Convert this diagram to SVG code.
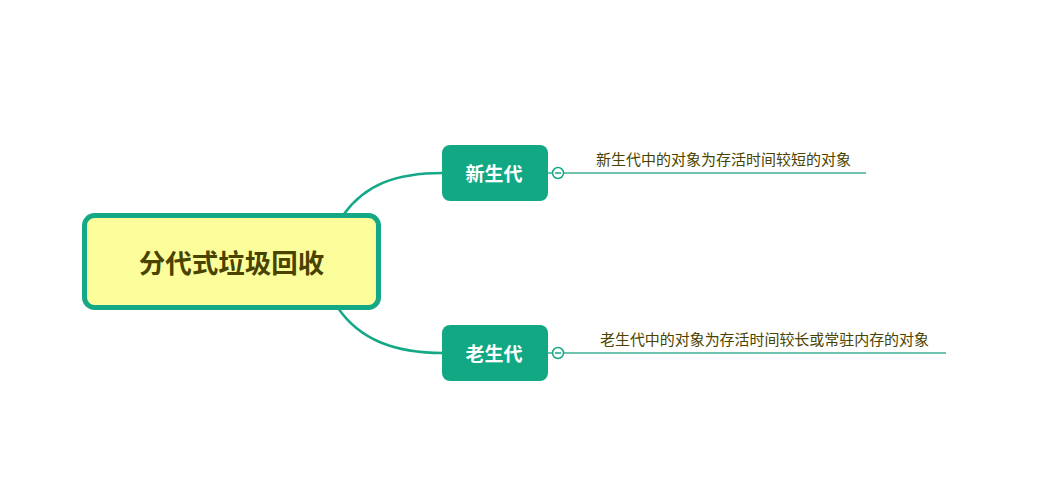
<svg xmlns="http://www.w3.org/2000/svg" width="1064" height="492" viewBox="0 0 1064 492">
<style>
.conn{fill:none;stroke:#14A886;stroke-width:2.5}
.leafline{fill:none;stroke:#3DAF92;stroke-width:1.5}
.child rect{fill:#12A884}
.child text{fill:#fff;font-family:"Noto Sans CJK SC",sans-serif;font-size:19px;font-weight:bold;text-anchor:middle}
.leaf text{fill:#4a4300;font-family:"Noto Sans CJK SC",sans-serif;font-size:15px}
.tog{fill:#fff;stroke:#14A886;stroke-width:1.5}
.togm{stroke:#14A886;stroke-width:1.5}
</style>
<rect width="1064" height="492" fill="#fff"/>
<g id="connectors">
<path class="conn" d="M344,214 C365,185 395,173 443,173"/>
<path class="conn" d="M338,308 C360,340 395,353 443,353"/>
<line class="leafline" x1="548" y1="173" x2="553" y2="173"/>
<line class="leafline" x1="563" y1="173" x2="866" y2="173"/>
<line class="leafline" x1="548" y1="353" x2="553" y2="353"/>
<line class="leafline" x1="563" y1="353" x2="946" y2="353"/>
</g>
<g id="root">
<rect x="84.5" y="215.5" width="294" height="92" rx="10" fill="#FBFE9A" stroke="#14A886" stroke-width="5"/>
<text x="231.5" y="273" font-family="Noto Sans CJK SC,sans-serif" font-size="26.5" font-weight="bold" fill="#4a4300" text-anchor="middle">分代式垃圾回收</text>
</g>
<g id="node-young" class="child">
<rect x="442" y="145" width="106" height="56" rx="8"/>
<text x="494" y="180.5">新生代</text>
</g>
<g id="node-old" class="child">
<rect x="442" y="325" width="106" height="56" rx="8"/>
<text x="494" y="360.5">老生代</text>
</g>
<g id="toggle-young">
<circle class="tog" cx="558" cy="173" r="5.5"/>
<line class="togm" x1="555" y1="173" x2="561" y2="173"/>
</g>
<g id="toggle-old">
<circle class="tog" cx="558" cy="353" r="5.5"/>
<line class="togm" x1="555" y1="353" x2="561" y2="353"/>
</g>
<g id="leaf-young" class="leaf">
<text x="596" y="165" textLength="255" lengthAdjust="spacing">新生代中的对象为存活时间较短的对象</text>
</g>
<g id="leaf-old" class="leaf">
<text x="600" y="345" textLength="329" lengthAdjust="spacing">老生代中的对象为存活时间较长或常驻内存的对象</text>
</g>
</svg>
